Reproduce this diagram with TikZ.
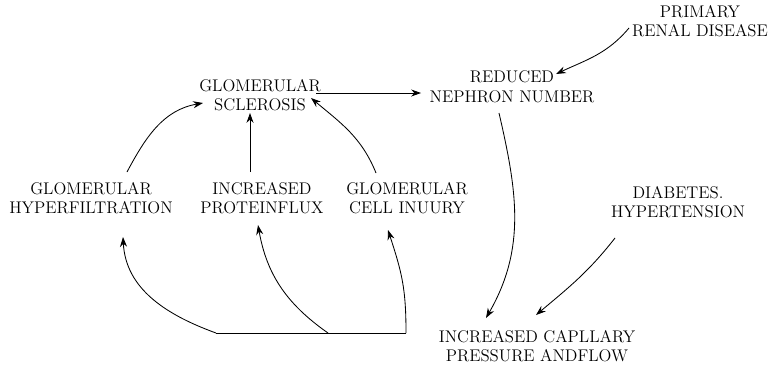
\documentclass[tikz,border=0pt]{standalone}
\usetikzlibrary{arrows.meta,calc}
\tikzset
{
    term/.style = {align=center, font=\large, inner sep=1pt},
    link/.style = {-{Stealth[length=7pt,width=5pt]}, line width=0.6pt},
    wire/.style = {line width=0.6pt}
}

\begin{document}
\begin{tikzpicture}[x=0.025cm, y=0.025cm]
	\useasboundingbox (0,0) rectangle (773,371);

	\node[term] (renal) at (700,350) {PRIMARY\\RENAL DISEASE};
	\node[term] (sclerosis) at (260,276) {GLOMERULAR\\SCLEROSIS};
	\node[term] (nephron) at (512,284) {REDUCED\\NEPHRON NUMBER};
	\node[term] (hyper) at (91,173) {GLOMERULAR\\HYPERFILTRATION};
	\node[term] (influx) at (262,173) {INCREASED\\PROTEINFLUX};
	\node[term] (injury) at (407,173) {GLOMERULAR\\CELL INUURY};
	\node[term] (diabetes) at (678,169) {DIABETES.\\HYPERTENSION};
	\node[term] (capillary) at (537,25) {INCREASED CAPLLARY\\PRESSURE ANDFLOW};

	% top row
	\draw[link] ($(sclerosis)+(56,2)$) -- ($(nephron)+(-91,-6)$);
	\draw[link] ($(renal)+(-71,-7)$) to[out=230,in=25] ($(nephron)+(44,13)$);

	% into the sclerosis node
	\draw[link] ($(hyper)+(36,26)$) to[out=62,in=190] ($(sclerosis)+(-57,-8)$);
	\draw[link] ($(influx)+(-12,26)$) -- ($(sclerosis)+(-10,-18)$);
	\draw[link] ($(injury)+(-31,25)$) to[out=112,in=320] ($(sclerosis)+(51,-3)$);

	% down to the capillary node
	\draw[link] ($(nephron)+(-13,-26)$) to[out=-77,in=60] ($(capillary)+(-51,28)$);
	\draw[link] ($(diabetes)+(-63,-36)$) to[out=232,in=40] ($(capillary)+(-1,31)$);

	% fork back up
	\coordinate (fork) at ($(capillary)+(-131,13)$);
	\coordinate (forkmid) at ($(fork)+(-78,0)$);
	\coordinate (forkleft) at ($(fork)+(-190,0)$);
	\draw[wire] (fork) -- (forkleft);
	\draw[link] (forkleft) to[out=160,in=-87] ($(hyper)+(32,-39)$);
	\draw[link] (forkmid) to[out=145,in=-80] ($(influx)+(-4,-27)$);
	\draw[link] (fork) to[out=90,in=-72,looseness=1.1] ($(injury)+(-19,-32)$);
\end{tikzpicture}
\end{document}
